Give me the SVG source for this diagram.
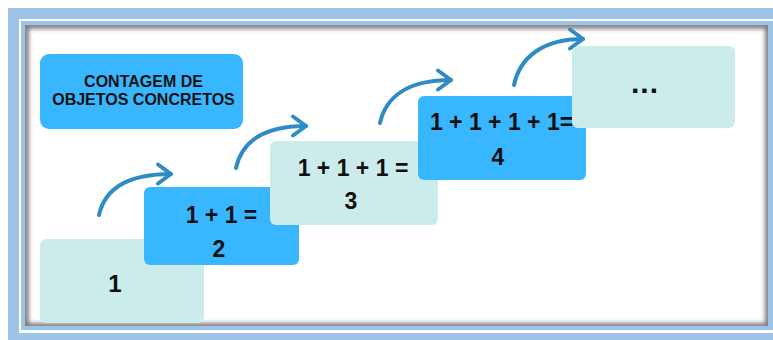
<svg xmlns="http://www.w3.org/2000/svg" width="773" height="340" viewBox="0 0 773 340">
  <style>
    .frame { fill: #9DC3E6; }
    .blue { fill: #38B6FF; }
    .teal { fill: #CCECEC; }
    .lbl { font-family: "Liberation Sans", Arial, sans-serif; font-weight: bold; fill: #111111; text-anchor: middle; }
    .eq { font-size: 23px; }
    .title { font-size: 16px; }
    .arrow { fill: none; stroke: #2E8BC5; stroke-width: 4; stroke-linecap: round; }
  </style>
  <defs>
    <marker id="head" markerUnits="userSpaceOnUse" markerWidth="30" markerHeight="30" refX="0" refY="0" orient="auto" overflow="visible">
      <path d="M-13,-9.5 L0,0 L-13,9.5" fill="none" stroke="#2E8BC5" stroke-width="4" stroke-linecap="round" stroke-linejoin="round"/>
    </marker>
    <clipPath id="panelClip">
      <rect x="25" y="25" width="743" height="301"/>
    </clipPath>
    <filter id="soft" x="-5%" y="-5%" width="110%" height="110%">
      <feGaussianBlur stdDeviation="2.5"/>
    </filter>
  </defs>

  <!-- frame -->
  <g id="frame">
    <rect class="frame" x="8" y="8" width="800" height="400"/>
    <rect x="19" y="19" width="800" height="314" fill="#FFFFFF"/>
    <rect class="frame" x="21" y="21" width="800" height="309"/>
    <rect x="25" y="25" width="743" height="301" fill="#FFFFFF"/>
    <g clip-path="url(#panelClip)">
      <rect x="24" y="24" width="745" height="303" fill="none" stroke="#8a8a8a" stroke-width="7" filter="url(#soft)"/>
      <rect x="26" y="26" width="743" height="301" fill="none" stroke="#6a6a6a" stroke-width="3" filter="url(#soft)"/>
    </g>
  </g>

  <!-- title -->
  <g id="title">
    <rect class="blue" x="40" y="54" width="203" height="75" rx="9"/>
    <text class="lbl title" x="143.5" y="87">CONTAGEM DE</text>
    <text class="lbl title" x="143.5" y="105">OBJETOS CONCRETOS</text>
  </g>

  <!-- connectors -->
  <g id="connectors">
    <path class="arrow" marker-end="url(#head)" d="M99,215 c6,-27 29,-41 72,-41"/>
    <path class="arrow" marker-end="url(#head)" d="M236,168 c6,-27 29,-42 70,-42"/>
    <path class="arrow" marker-end="url(#head)" d="M380,123 c6,-27 29,-43 71,-43"/>
    <path class="arrow" marker-end="url(#head)" d="M514,85 c6,-28 29,-46 69,-46"/>
  </g>

  <!-- nodes -->
  <g id="node1">
    <rect class="teal" x="40" y="239" width="164" height="84" rx="6"/>
    <text class="lbl" x="115" y="292" font-size="24">1</text>
  </g>
  <g id="node2">
    <rect class="blue" x="144" y="187" width="155" height="78" rx="6"/>
    <text class="lbl eq" x="221.5" y="223">1 + 1 =</text>
    <text class="lbl eq" x="219" y="257">2</text>
  </g>
  <g id="node3">
    <rect class="teal" x="270" y="141" width="168" height="84" rx="6"/>
    <text class="lbl eq" x="353" y="176">1 + 1 + 1 =</text>
    <text class="lbl eq" x="351" y="209">3</text>
  </g>
  <g id="node4">
    <rect class="blue" x="418" y="96" width="168" height="84" rx="6"/>
    <text class="lbl eq" x="501.5" y="130">1 + 1 + 1 + 1=</text>
    <text class="lbl eq" x="498" y="165">4</text>
  </g>
  <g id="node5">
    <rect class="teal" x="572" y="46" width="163" height="82" rx="6"/>
    <text class="lbl" x="645" y="93" font-size="30" letter-spacing="1">...</text>
  </g>
</svg>
